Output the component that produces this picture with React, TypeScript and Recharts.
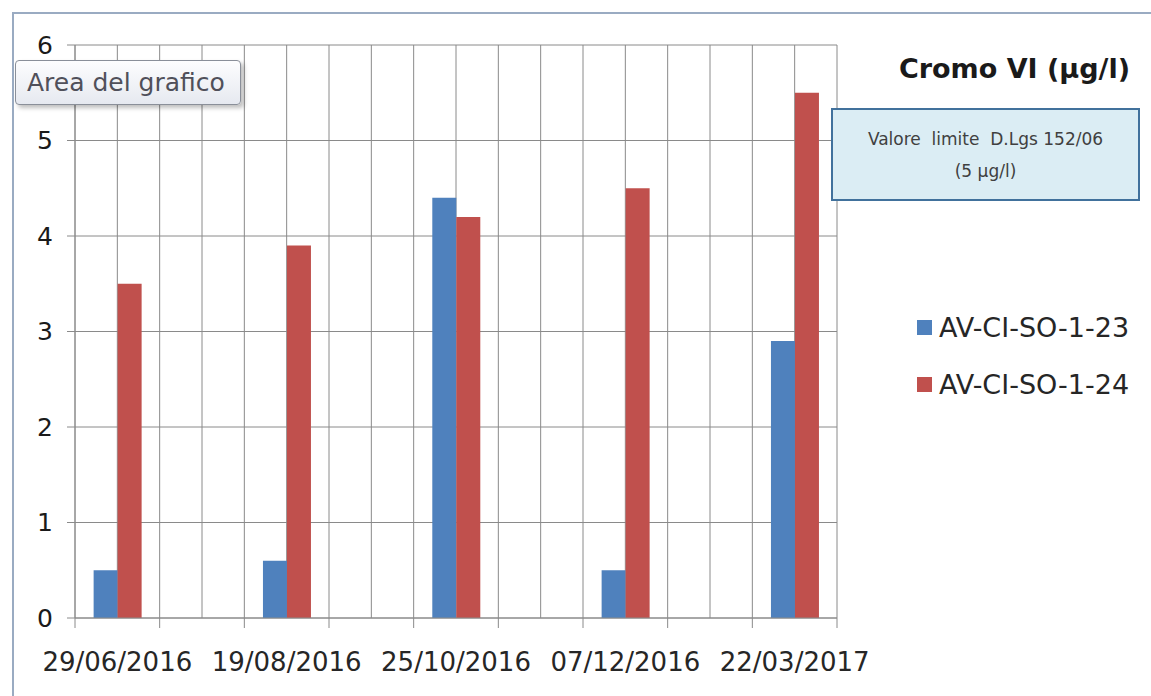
import React from 'react';
import { BarChart, Bar, XAxis, YAxis, CartesianGrid, Legend } from 'recharts';

// ---- data ----
const categories = ['29/06/2016', '', '19/08/2016', '', '25/10/2016', '', '07/12/2016', '', '22/03/2017'];
const seriesA = [0.5, null, 0.6, null, 4.4, null, 0.5, null, 2.9]; // AV-CI-SO-1-23
const seriesB = [3.5, null, 3.9, null, 4.2, null, 4.5, null, 5.5]; // AV-CI-SO-1-24
const yTicks = [0, 1, 2, 3, 4, 5, 6];
const seriesNames = ['AV-CI-SO-1-23', 'AV-CI-SO-1-24'];
const seriesColors = ['#4F81BD', '#C0504D'];
const chartTitle = 'Cromo VI (µg/l)';
const noteLines = ['Valore  limite  D.Lgs 152/06', '(5 µg/l)'];
const hoverLabel = 'Area del grafico';

const data = categories.map((c, i) => ({ idx: i, label: c, a: seriesA[i], b: seriesB[i] }));

// ---- layout ----
const W = 1151;
const H = 696;
const MARGIN = { top: 45, right: 314, bottom: 18, left: 15 };
const Y_AXIS_W = 60;
const X_AXIS_H = 60;
const PLOT_W = W - MARGIN.left - Y_AXIS_W - MARGIN.right;
const BAND = PLOT_W / categories.length;
const FONT = '"DejaVu Sans", Verdana, sans-serif';
const GRID = '#8a8a8a';

function XTick(props: any) {
  const { x, y, payload } = props;
  const i = Number(payload.value);
  const label = categories[i];
  const axisY = y - 10;
  return (
    <g>
      <line x1={x - BAND / 2} x2={x - BAND / 2} y1={axisY} y2={axisY + 10} stroke={GRID} strokeWidth={1} />
      {i === categories.length - 1 && (
        <line x1={x + BAND / 2} x2={x + BAND / 2} y1={axisY} y2={axisY + 10} stroke={GRID} strokeWidth={1} />
      )}
      {label && (
        <text x={x} y={axisY + 44} textAnchor="middle" dominantBaseline="central" fill="#262626" fontSize={26} fontFamily={FONT}>
          {label}
        </text>
      )}
    </g>
  );
}

function LegendContent(props: any) {
  const payload = props.payload || [];
  return (
    <div style={{ fontFamily: FONT }}>
      {payload.map((p: any, i: number) => (
        <div key={i} style={{ display: 'flex', alignItems: 'center', height: 30, marginBottom: 27 }}>
          <div style={{ width: 15, height: 15, background: p.color, marginRight: 7 }} />
          <span style={{ fontSize: 27, color: '#262626', whiteSpace: 'nowrap' }}>{p.value}</span>
        </div>
      ))}
    </div>
  );
}

export default function App() {
  return (
    <div style={{ position: 'fixed', left: 0, top: 0, width: W, height: H, background: '#ffffff', overflow: 'hidden' }}>
      {/* outer frame */}
      <div
        style={{
          position: 'absolute',
          left: 12,
          top: 12,
          width: W,
          height: H,
          borderLeft: '2px solid #9aabc2',
          borderTop: '2px solid #9aabc2',
        }}
      />
      <div style={{ position: 'absolute', left: 0, top: 0 }}>
        <BarChart width={W} height={H} data={data} margin={MARGIN} barCategoryGap="22%" barGap={0}>
          <CartesianGrid
            stroke={GRID}
            strokeWidth={1}
            verticalCoordinatesGenerator={({ offset }: any) =>
              Array.from({ length: categories.length * 2 + 1 }, (_, k) => offset.left + (k * offset.width) / (categories.length * 2))
            }
          />
          <XAxis
            dataKey="idx"
            type="category"
            interval={0}
            height={X_AXIS_H}
            axisLine={{ stroke: GRID }}
            tickLine={false}
            tickSize={10}
            tickMargin={0}
            tick={<XTick />}
          />
          <YAxis
            type="number"
            domain={[0, 6]}
            ticks={yTicks}
            width={Y_AXIS_W}
            axisLine={{ stroke: GRID }}
            tickLine={{ stroke: GRID }}
            tickSize={8}
            tickMargin={14}
            tick={{ fill: '#1a1a1a', fontSize: 25, fontFamily: FONT }}
          />
          <Bar dataKey="a" name={seriesNames[0]} fill={seriesColors[0]} isAnimationActive={false} />
          <Bar dataKey="b" name={seriesNames[1]} fill={seriesColors[1]} isAnimationActive={false} />
          <Legend
            content={<LegendContent />}
            wrapperStyle={{ position: 'absolute', left: 917, top: 312, width: 234, height: 0, overflow: 'visible' }}
          />
        </BarChart>
      </div>
      {/* chart title */}
      <div
        style={{
          position: 'absolute',
          right: 21,
          top: 52,
          lineHeight: '34px',
          fontSize: 27,
          fontWeight: 'bold',
          color: '#1a1a1a',
          fontFamily: FONT,
          whiteSpace: 'nowrap',
        }}
      >
        {chartTitle}
      </div>
      {/* limit note */}
      <div
        style={{
          position: 'absolute',
          left: 831,
          top: 108,
          width: 309,
          height: 93,
          boxSizing: 'border-box',
          background: '#dbedf4',
          border: '2px solid #41719c',
          display: 'flex',
          flexDirection: 'column',
          justifyContent: 'center',
          alignItems: 'center',
          fontFamily: FONT,
          fontSize: 17,
          lineHeight: '32px',
          color: '#404040',
        }}
      >
        {noteLines.map((t, i) => (
          <div key={i} style={{ whiteSpace: 'pre' }}>{t}</div>
        ))}
      </div>
      {/* hover label */}
      <div
        style={{
          position: 'absolute',
          left: 15,
          top: 60,
          width: 226,
          height: 45,
          boxSizing: 'border-box',
          border: '1px solid #8a8f99',
          borderRadius: 4,
          background: 'linear-gradient(#fdfdfe, #e6e9f0)',
          boxShadow: '3px 3px 4px rgba(0,0,0,0.25)',
          fontFamily: FONT,
          fontSize: 25,
          color: '#50505a',
          lineHeight: '43px',
          paddingLeft: 11,
          whiteSpace: 'nowrap',
        }}
      >
        {hoverLabel}
      </div>
    </div>
  );
}
